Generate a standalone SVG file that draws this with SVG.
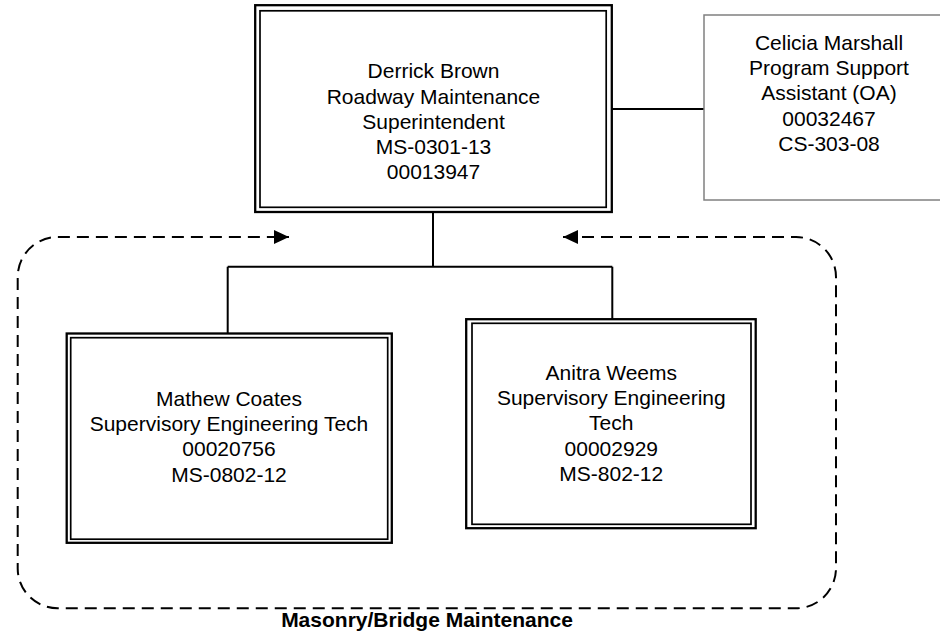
<svg xmlns="http://www.w3.org/2000/svg" width="940" height="636" viewBox="0 0 940 636">
  <style>
    .outer { fill: #ffffff; stroke: #000000; stroke-width: 2.3; }
    .inner { fill: none; stroke: #000000; stroke-width: 1.7; }
    .plain { fill: #ffffff; stroke: #808080; stroke-width: 1.5; }
    .conn { fill: none; stroke: #000000; stroke-width: 2; }
    .dash { fill: none; stroke: #000000; stroke-width: 2; stroke-dasharray: 12 7; }
    .t { font-family: "Liberation Sans", Arial, sans-serif; font-size: 21px; fill: #000000; text-anchor: middle; }
    .lbl { font-family: "Liberation Sans", Arial, sans-serif; font-size: 21px; font-weight: bold; fill: #000000; text-anchor: middle; }
  </style>
  <defs>
    <marker id="arrow" markerUnits="userSpaceOnUse" markerWidth="16" markerHeight="16" refX="15" refY="7" orient="auto-start-reverse">
      <path d="M0,0 L15,7 L0,14 z" fill="#000000"/>
    </marker>
  </defs>
  <rect width="940" height="636" fill="#ffffff"/>

  <g id="connectors">
    <path class="conn" d="M433 212 V266.7 M227.7 266.7 H612.3 M227.7 266.7 V333.5 M612.3 266.7 V319.2"/>
    <path class="conn" d="M611.8 109 H704"/>
  </g>

  <g id="group-boundary">
    <path class="dash" d="M563 237 H796 A40 40 0 0 1 836 277 V568 A40 40 0 0 1 796 608.3 H58 A40 40 0 0 1 17.7 568 V277 A40 40 0 0 1 58 237 H289" marker-start="url(#arrow)" marker-end="url(#arrow)"/>
    <text class="lbl" x="427" y="627">Masonry/Bridge Maintenance</text>
  </g>

  <g id="node-derrick">
    <rect class="outer" x="255.2" y="5.2" width="356.6" height="206.8"/>
    <rect class="inner" x="260" y="10.8" width="346.2" height="196.5"/>
    <text class="t" x="433.5" y="78.3">Derrick Brown</text>
    <text class="t" x="433.5" y="103.5">Roadway Maintenance</text>
    <text class="t" x="433.5" y="128.7">Superintendent</text>
    <text class="t" x="433.5" y="153.9">MS-0301-13</text>
    <text class="t" x="433.5" y="179.1">00013947</text>
  </g>

  <g id="node-celicia">
    <rect class="plain" x="704" y="15" width="260" height="185"/>
    <text class="t" x="829" y="50">Celicia Marshall</text>
    <text class="t" x="829" y="75.2">Program Support</text>
    <text class="t" x="829" y="100.4">Assistant (OA)</text>
    <text class="t" x="829" y="125.6">00032467</text>
    <text class="t" x="829" y="150.8">CS-303-08</text>
  </g>

  <g id="node-mathew">
    <rect class="outer" x="66.7" y="333.5" width="325.1" height="209.3"/>
    <rect class="inner" x="70.7" y="337.7" width="317" height="201.5"/>
    <text class="t" x="229" y="406">Mathew Coates</text>
    <text class="t" x="229" y="431.2">Supervisory Engineering Tech</text>
    <text class="t" x="229" y="456.4">00020756</text>
    <text class="t" x="229" y="481.6">MS-0802-12</text>
  </g>

  <g id="node-anitra">
    <rect class="outer" x="466.2" y="319.2" width="289.5" height="209"/>
    <rect class="inner" x="472" y="323.3" width="279" height="201"/>
    <text class="t" x="611.3" y="380">Anitra Weems</text>
    <text class="t" x="611.3" y="405.2">Supervisory Engineering</text>
    <text class="t" x="611.3" y="430.4">Tech</text>
    <text class="t" x="611.3" y="455.6">00002929</text>
    <text class="t" x="611.3" y="480.8">MS-802-12</text>
  </g>
</svg>
